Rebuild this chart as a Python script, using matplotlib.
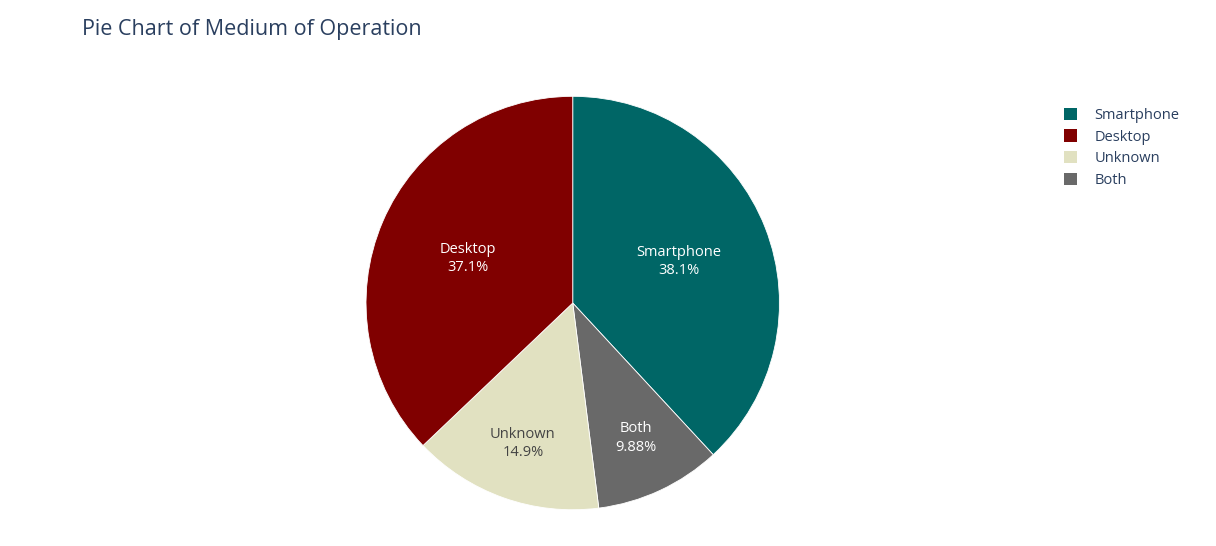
import matplotlib
matplotlib.use("Agg")
import matplotlib.pyplot as plt
from matplotlib.patches import Patch
import numpy as np

# data (drawing order is clockwise from 12 o'clock)
labels = ["Smartphone", "Both", "Unknown", "Desktop"]
shares = [38.1, 9.88, 14.9, 37.1]
pct_text = ["38.1%", "9.88%", "14.9%", "37.1%"]
legend_order = ["Smartphone", "Desktop", "Unknown", "Both"]

COLORS = {"Smartphone": "#006666", "Desktop": "#800000", "Unknown": "#E1E1C1", "Both": "#696969"}
TXT = {"Smartphone": "white", "Desktop": "white", "Unknown": "#444444", "Both": "white"}
C_TITLE = "#2a3f5f"

plt.rcParams["font.family"] = ["Open Sans", "DejaVu Sans"]

fig = plt.figure(figsize=(12.16, 5.46), dpi=100)
ax = fig.add_axes([0.301, 0.066, 0.340, 0.758])
wedges, _ = ax.pie(shares, colors=[COLORS[l] for l in labels], startangle=90,
                   counterclock=False, wedgeprops={"edgecolor": "white", "linewidth": 0.6})
for w, lab, pt in zip(wedges, labels, pct_text):
    ang = np.deg2rad((w.theta1 + w.theta2) / 2)
    r = 0.55 if lab in ("Smartphone", "Desktop") else 0.72
    ax.text(r * np.cos(ang), r * np.sin(ang), f"{lab}\n{pt}", ha="center", va="center",
            fontsize=10.5, color=TXT[lab], linespacing=1.3)
ax.set_xlim(-1, 1)
ax.set_ylim(-1, 1)
ax.set_aspect("equal")

fig.text(82 / 1216, 1 - 29 / 546, "Pie Chart of Medium of Operation", fontsize=15.5,
         color=C_TITLE, va="center", ha="left")

handles = [Patch(facecolor=COLORS[l], label=l) for l in legend_order]
leg = fig.legend(handles=handles, loc="upper left", bbox_to_anchor=(1058 / 1216, 1 - 102 / 546),
                 frameon=False, fontsize=10.5, handlelength=0.9, handleheight=0.9,
                 handletextpad=1.2, labelspacing=0.45, borderaxespad=0)
for t in leg.get_texts():
    t.set_color(C_TITLE)

fig.savefig("out.png", dpi=100)
